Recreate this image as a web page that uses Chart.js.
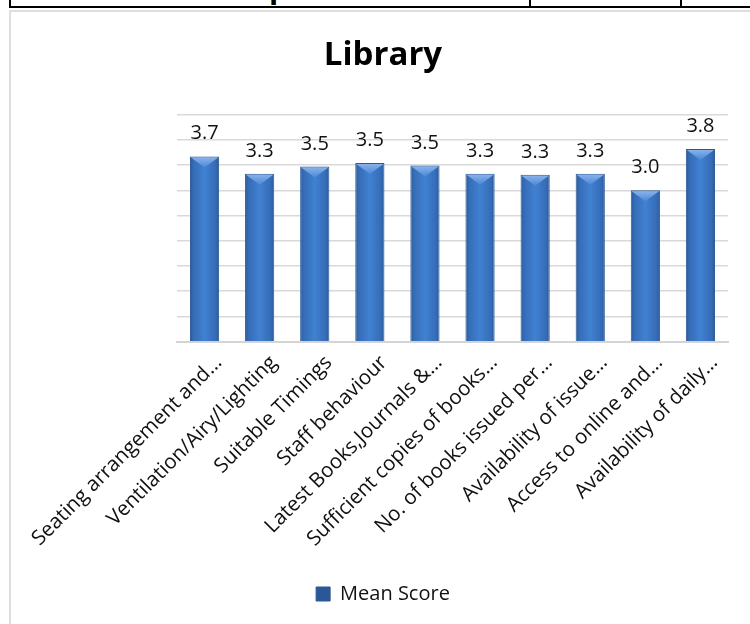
<!DOCTYPE html>
<html>
<head>
<meta charset="utf-8">
<script src="https://cdn.jsdelivr.net/npm/chart.js@4.4.1/dist/chart.umd.min.js"></script>
<style>
  html, body { margin: 0; padding: 0; background: #fff; overflow: hidden; }
  body { width: 750px; height: 624px; position: relative; font-family: 'Open Sans', sans-serif; }
  #frame { position: absolute; left: 9px; top: 10px; width: 800px; height: 700px; border: 2px solid #dedede; box-sizing: border-box; }
  .bl { position: absolute; background: #000; }
  #toptext { position: absolute; left: 50px; top: -33px; font: bold 30px 'Open Sans', sans-serif; color: #000; white-space: nowrap; line-height: 40px; }
  #wrap { position: absolute; left: 0; top: 0; width: 750px; height: 624px; }
</style>
</head>
<body>
<div id="toptext">Total No of response</div>
<div class="bl" style="left:9px;top:6px;width:741px;height:2px;"></div>
<div class="bl" style="left:9px;top:0;width:2px;height:8px;"></div>
<div class="bl" style="left:529px;top:0;width:2px;height:8px;"></div>
<div class="bl" style="left:680px;top:0;width:2px;height:8px;"></div>
<div id="frame"></div>
<div id="wrap"><canvas id="c" width="750" height="624"></canvas></div>
<script>
const TITLE = 'Library';
const SERIES_NAME = 'Mean Score';
const CATEGORIES = [
  'Seating arrangement and…',
  'Ventilation/Airy/Lighting',
  'Suitable Timings',
  'Staff behaviour',
  'Latest Books,Journals &…',
  'Sufficient copies of books…',
  'No. of books issued per…',
  'Availability of issue…',
  'Access to online and…',
  'Availability of daily…'
];
const MEAN_SCORES = [3.67, 3.33, 3.47, 3.54, 3.49, 3.33, 3.31, 3.33, 3.00, 3.82];
const Y_MIN = 0, Y_MAX = 4.5, Y_STEP = 0.5;

const FONT = "'Open Sans', sans-serif";
const BAR_PCT = 0.53;

function barFill(c) {
  const chart = c.chart;
  const xs = chart.scales && chart.scales.x;
  if (!xs || c.type !== 'data' || !isFinite(xs.width) || xs.width <= 0) return '#3c78c6';
  const cx = xs.getPixelForValue(c.dataIndex);
  const w = (xs.width / CATEGORIES.length) * BAR_PCT;
  const g = chart.ctx.createLinearGradient(cx - w / 2, 0, cx + w / 2, 0);
  g.addColorStop(0, '#2a5897');
  g.addColorStop(0.12, '#356cb6');
  g.addColorStop(0.5, '#4181d2');
  g.addColorStop(0.88, '#356cb6');
  g.addColorStop(1, '#2a5897');
  return g;
}

const barDecor = {
  id: 'barDecor',
  afterDatasetsDraw(chart) {
    const ctx = chart.ctx;
    const meta = chart.getDatasetMeta(0);
    ctx.save();
    meta.data.forEach((bar) => {
      const w = bar.width, x0 = bar.x - w / 2, x1 = bar.x + w / 2, y = bar.y;
      const g = ctx.createLinearGradient(0, y, 0, y + 11);
      g.addColorStop(0, '#8fb6ec');
      g.addColorStop(1, '#4a88d8');
      ctx.fillStyle = g;
      ctx.beginPath();
      ctx.moveTo(x0 + 1, y + 1);
      ctx.lineTo(x1 - 1, y + 1);
      ctx.lineTo(bar.x, y + 11);
      ctx.closePath();
      ctx.fill();
    });
    ctx.fillStyle = '#111';
    ctx.font = '20px ' + FONT;
    ctx.textAlign = 'center';
    ctx.textBaseline = 'alphabetic';
    meta.data.forEach((bar, i) => {
      ctx.fillText(MEAN_SCORES[i].toFixed(1), bar.x, bar.y - 17);
    });
    ctx.restore();
  }
};

new Chart(document.getElementById('c'), {
  type: 'bar',
  data: {
    labels: CATEGORIES,
    datasets: [{
      label: SERIES_NAME,
      data: MEAN_SCORES,
      backgroundColor: barFill,
      borderColor: '#2a5897',
      borderWidth: 1,
      barPercentage: BAR_PCT,
      categoryPercentage: 1
    }]
  },
  options: {
    responsive: false,
    animation: false,
    devicePixelRatio: 1,
    layout: { padding: { left: 16, right: 0, top: 0, bottom: 10 } },
    plugins: {
      title: {
        display: true,
        text: TITLE,
        color: '#000',
        font: { family: FONT, size: 33, weight: 'bold' },
        padding: { top: 36, bottom: 39 }
      },
      legend: {
        display: true,
        position: 'bottom',
        labels: {
          color: '#111',
          font: { family: FONT, size: 20 },
          boxWidth: 14,
          boxHeight: 14,
          padding: 10
        }
      },
      tooltip: { enabled: false }
    },
    scales: {
      x: {
        grid: { display: false, drawTicks: false },
        border: { display: true, color: '#d4d4d4', width: 2 },
        ticks: {
          autoSkip: false,
          maxRotation: 45,
          minRotation: 45,
          padding: 9,
          labelOffset: 14,
          color: '#111',
          font: { family: FONT, size: 20.5 }
        },
        afterFit(axis) { axis.height = 232.3; }
      },
      y: {
        min: Y_MIN,
        max: Y_MAX,
        ticks: { display: false, stepSize: Y_STEP },
        grid: { color: '#d9d9d9', lineWidth: 1.5, drawTicks: false },
        border: { display: false },
        afterFit(axis) { axis.width = 161; }
      },
      yr: {
        type: 'linear',
        position: 'right',
        display: true,
        ticks: { display: false },
        grid: { display: false, drawTicks: false },
        border: { display: false },
        afterFit(axis) { axis.width = 22; }
      }
    }
  },
  plugins: [barDecor]
});
</script>
</body>
</html>
